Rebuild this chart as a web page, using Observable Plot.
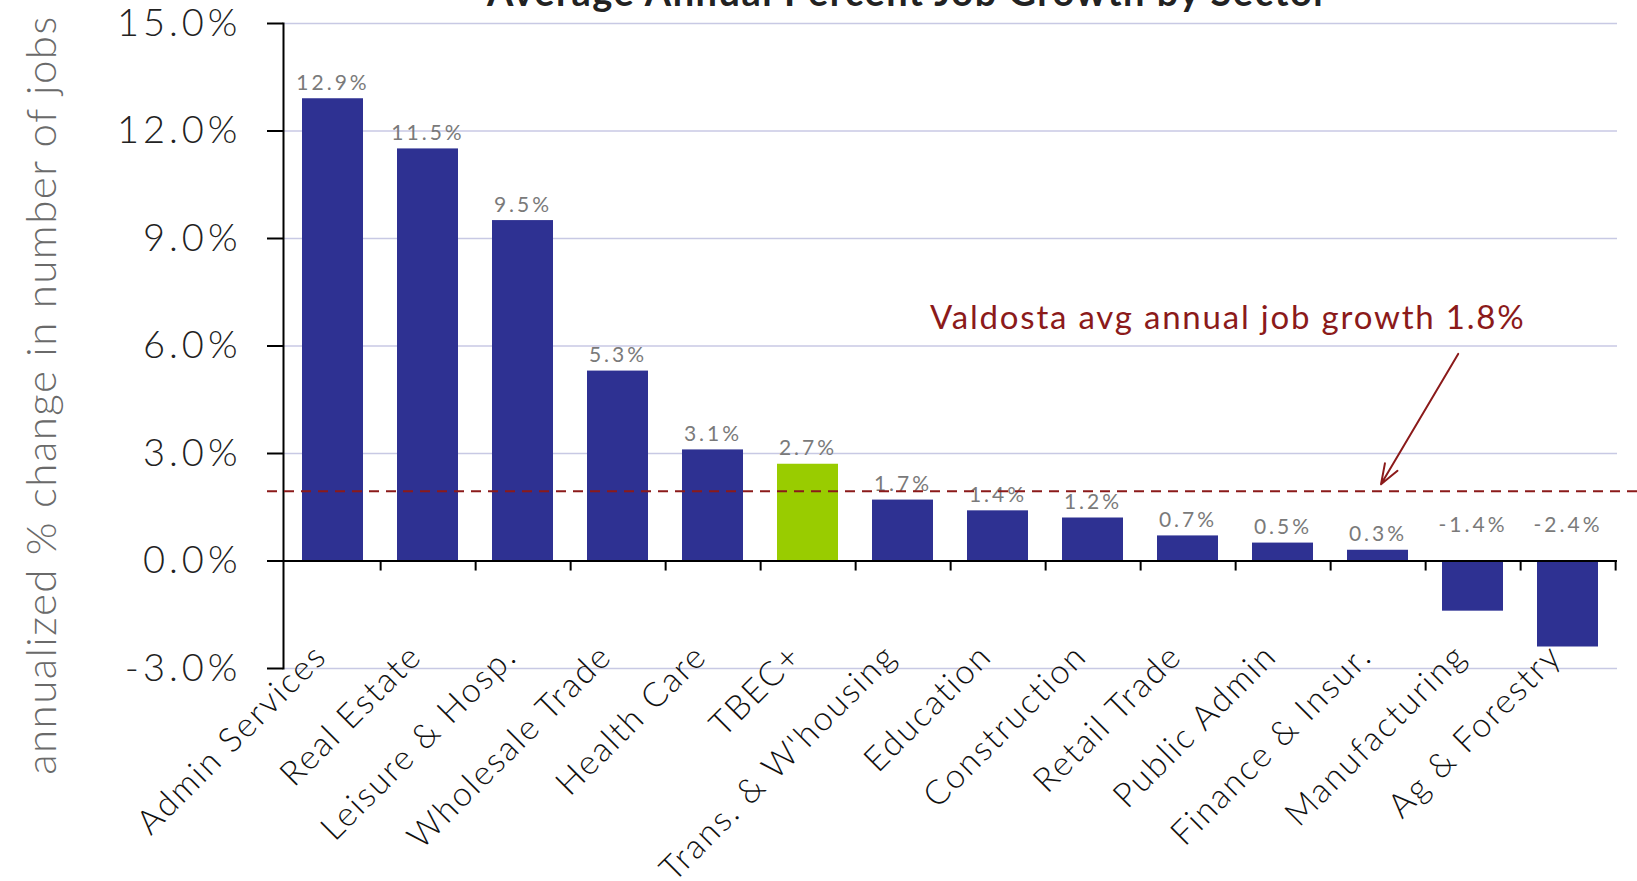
<!DOCTYPE html>
<html>
<head>
<meta charset="utf-8">
<script src="https://cdn.jsdelivr.net/npm/d3@7"></script>
<script src="https://cdn.jsdelivr.net/npm/@observablehq/plot@0.6"></script>
<style>
  html, body { margin: 0; padding: 0; background: #fff; }
  #wrap { position: relative; width: 1637px; height: 881px; overflow: hidden; }
  #title { position: absolute; left: 0; width: 1816px; top: -28px; text-align: center;
           font: bold 38px "Lato", sans-serif; line-height: 38px; color: #222; letter-spacing: 1.5px; }
  #chart svg { display: block; }
  g[aria-label="y-axis tick label"] text { letter-spacing: 4px; }
  g[aria-label="x-axis tick label"] text { letter-spacing: 2px; }
  g.barlabel text { letter-spacing: 3px; }
  g.avgtext text { letter-spacing: 1.8px; }
  g.ylab text { letter-spacing: 1.5px; }
</style>
</head>
<body>
<div id="wrap">
  <div id="title">Average Annual Percent Job Growth by Sector</div>
  <div id="chart"></div>
</div>
<script>
const sectors = ["Admin Services", "Real Estate", "Leisure & Hosp.", "Wholesale Trade", "Health Care", "TBEC+",
  "Trans. & W'housing", "Education", "Construction", "Retail Trade", "Public Admin", "Finance & Insur.",
  "Manufacturing", "Ag & Forestry"];
const growth = [12.9, 11.5, 9.5, 5.3, 3.1, 2.7, 1.7, 1.4, 1.2, 0.7, 0.5, 0.3, -1.4, -2.4];
const highlightSector = "TBEC+";
const yTicks = [-3, 0, 3, 6, 9, 12, 15];
const yLabel = "annualized % change in number of jobs";
// average line as drawn in the picture, and its annotation
const avgValue = 1.95;
const avgText = "Valdosta avg annual job growth 1.8%";
const avgTextSector = "Trans. & W'housing";
const avgTextValue = 6.76;
const arrowFrom = {sector: "Manufacturing", value: 6.62};
const arrowTo = {sector: "Finance & Insur.", value: 2.14};

const data = sectors.map((s, i) => ({sector: s, value: growth[i]}));

const W = 1637, H = 881;
const mL = 283, mR = 20, mT = 23, mB = 213;
const step = (W - mL - mR) / sectors.length;

const blue = "#2e3192", green = "#99cc00", red = "#8b1a1a";

const chart = Plot.plot({
  width: W, height: H,
  marginLeft: mL, marginRight: mR, marginTop: mT, marginBottom: mB,
  style: {fontFamily: "Lato, sans-serif", background: "white", overflow: "visible"},
  x: {domain: sectors, paddingInner: 0.36, paddingOuter: 0.18, label: null},
  y: {domain: [-3, 15], label: null},
  marks: [
    Plot.gridY(yTicks, {stroke: "#c8c9e4", strokeOpacity: 1, strokeWidth: 1.5}),
    Plot.barY(data, {x: "sector", y: "value", fill: d => d.sector === highlightSector ? green : blue}),
    Plot.ruleY([0], {stroke: "black", strokeWidth: 2}),
    Plot.ruleX(sectors, {x: d => d, y1: 0, y2: -0.28, dx: step / 2, stroke: "black", strokeWidth: 2}),
    Plot.frame({anchor: "left", stroke: "black", strokeWidth: 2}),
    Plot.axisY(yTicks, {tickFormat: d => d.toFixed(1) + "%", tickSize: 16, tickPadding: 26,
      fontSize: 38, fontWeight: 300, fill: "#222", stroke: "black", strokeWidth: 2}),
    Plot.axisX({tickSize: 0, tickRotate: -45, tickPadding: 0, fontSize: 34, fontWeight: 300,
      fill: "#111", dx: -12, dy: -18}),
    Plot.text([yLabel], {frameAnchor: "left", textAnchor: "middle", dx: -241, dy: 49, rotate: -90,
      fontSize: 42, fontWeight: 300, fill: "#6a6a6a", className: "ylab"}),
    Plot.text(data.filter(d => d.value >= 0), {x: "sector", y: "value", text: d => d.value.toFixed(1) + "%",
      lineAnchor: "bottom", dy: -9, fontSize: 21, fill: "#7a7a7a", className: "barlabel"}),
    Plot.text(data.filter(d => d.value < 0), {x: "sector", y: 0, text: d => d.value.toFixed(1) + "%",
      lineAnchor: "bottom", dy: -29, fontSize: 21, fill: "#7a7a7a", className: "barlabel"}),
    Plot.ruleY([avgValue], {stroke: red, strokeWidth: 2, strokeDasharray: "10,7", insetLeft: -16, insetRight: -20}),
    Plot.text([avgText], {x: () => avgTextSector, y: () => avgTextValue, text: d => d, textAnchor: "start",
      dx: 27, fontSize: 33, fill: red, className: "avgtext"}),
    Plot.arrow([{from: arrowFrom, to: arrowTo}], {x1: d => d.from.sector, y1: d => d.from.value,
      x2: d => d.to.sector, y2: d => d.to.value, dx: 3, insetStart: 35, stroke: red, strokeWidth: 2,
      headLength: 16, headAngle: 40})
  ]
});
document.getElementById("chart").appendChild(chart);
</script>
</body>
</html>
